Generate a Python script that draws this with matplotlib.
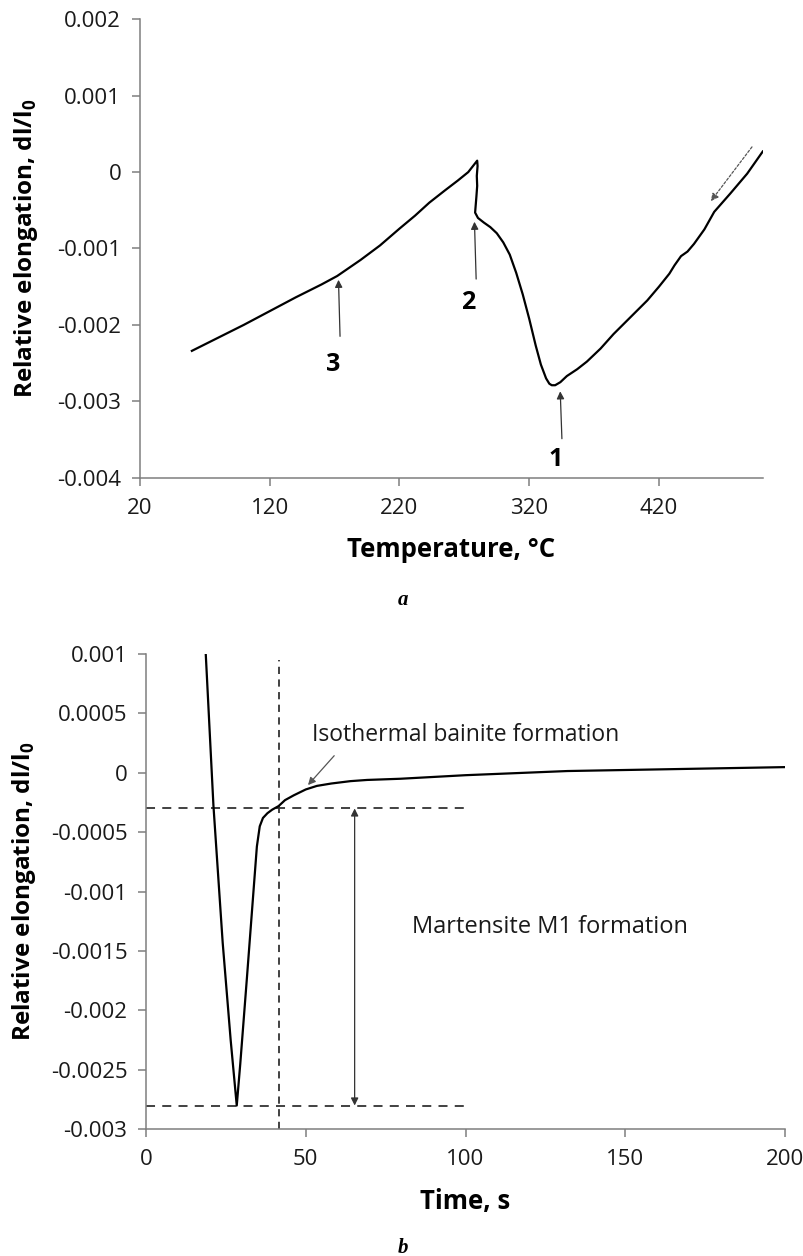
import numpy as np
import matplotlib
matplotlib.use("Agg")
import matplotlib.pyplot as plt

plt.rcParams['font.family'] = ['Open Sans', 'DejaVu Sans']
plt.rcParams['mathtext.fontset'] = 'custom'
plt.rcParams['mathtext.rm'] = 'Open Sans'
plt.rcParams['mathtext.bf'] = 'Open Sans:bold'

# dilatometric curve on cooling: temperature (C) vs relative elongation
temp_a = [60, 80, 100, 120, 140, 160, 172, 190, 205, 220, 232, 243, 255, 265,
          273, 279.9, 280.2, 279.6, 279.9, 279.3, 278.3, 280.5, 285, 290, 295,
          300, 305, 310, 315, 320, 325, 329, 333, 335.5, 337.4, 340, 344,
          349, 357, 364.5, 375, 385, 398, 411, 420, 428, 432, 437, 442,
          447, 455, 462.6, 475, 488, 500]
elong_a = [-0.00234, -0.00217, -0.00200, -0.00182, -0.00164, -0.00147,
           -0.00136, -0.00115, -0.00096, -0.00074, -0.00057, -0.00040,
           -0.00024, -0.00011, 0.00000, 0.00015, 0.00008, -0.00005,
           -0.00018, -0.00032, -0.00053, -0.00060, -0.00066, -0.00072,
           -0.00080, -0.00092, -0.00108, -0.00132, -0.00160, -0.00192,
           -0.00227, -0.00252, -0.00270, -0.00277, -0.00279, -0.00279,
           -0.00275, -0.00267, -0.00258, -0.00248, -0.00231, -0.00212,
           -0.00190, -0.00168, -0.00150, -0.00133, -0.00122, -0.00110,
           -0.00104, -0.00094, -0.00075, -0.00052, -0.00028, -0.00002,
           0.00027]

# isothermal holding: time (s) vs relative elongation
time_b = [18.7, 21.1, 24.0, 26.5, 28.4, 29.5, 31.6, 33.6, 34.7, 35.6, 36.6,
          38.0, 39.5, 41.5, 43.5, 46.2, 50, 53.5, 58, 64, 69.2, 79.6, 100,
          131.9, 163, 200]
elong_b = [0.001, -0.000274, -0.00143, -0.00225, -0.0028, -0.00245, -0.00172,
           -0.00101, -0.00062, -0.00045, -0.00038, -0.00034, -0.00031,
           -0.00028, -0.00023, -0.00019, -0.00014, -0.00011, -0.00009,
           -0.00007, -0.00006, -0.00005, -0.00002, 0.000015, 0.00003,
           0.000048]

xticks_a = [20, 120, 220, 320, 420]
yticks_a = [0.002, 0.001, 0, -0.001, -0.002, -0.003, -0.004]
ylabels_a = ['0.002', '0.001', '0', '-0.001', '-0.002', '-0.003', '-0.004']

xticks_b = [0, 50, 100, 150, 200]
yticks_b = [0.001, 0.0005, 0, -0.0005, -0.001, -0.0015, -0.002, -0.0025, -0.003]
ylabels_b = ['0.001', '0.0005', '0', '-0.0005', '-0.001', '-0.0015', '-0.002',
             '-0.0025', '-0.003']

# levels used for the guide lines in (b)
level_hi = -0.0003
level_lo = -0.0028
t_start = 41.5
t_arrow = 65.3

AX_COL = '#7f7f7f'
TXT_COL = '#1a1a1a'
ylab = r'Relative elongation, dl/l$_\mathbf{0}$'


def style_axes(ax, xticks, yticks, ylabels):
    for s in ['top', 'right']:
        ax.spines[s].set_visible(False)
    for s in ['left', 'bottom']:
        ax.spines[s].set_color(AX_COL)
        ax.spines[s].set_linewidth(1.1)
    ax.set_xticks(xticks)
    ax.set_yticks(yticks)
    ax.set_yticklabels(ylabels)
    ax.tick_params(direction='out', length=5.5, width=1.1, color=AX_COL,
                   labelsize=16, labelcolor=TXT_COL)
    ax.tick_params(axis='x', pad=9)
    ax.tick_params(axis='y', pad=8)


fig = plt.figure(figsize=(8.04, 12.56), dpi=100)

# ---- (a) temperature ----
ax1 = fig.add_axes([0.1741, 0.6197, 0.7746, 0.3649])
ax1.plot(temp_a, elong_a, color='black', lw=1.6)
ax1.set_xlim(20, 500)
ax1.set_ylim(-0.004, 0.002)
style_axes(ax1, xticks_a, yticks_a, ylabels_a)
ax1.set_xlabel('Temperature, °C', fontsize=18.5, fontweight='bold', va='center')
ax1.set_ylabel(ylab, fontsize=17.5, fontweight='bold', va='center')
ax1.xaxis.set_label_coords(0.5, -0.156)
ax1.yaxis.set_label_coords(-0.183, 0.5)

arr = dict(arrowstyle='-|>', color='#333333', lw=0.9, mutation_scale=11,
           shrinkA=0, shrinkB=0)
ax1.annotate('', xy=(343.9, -0.00287), xytext=(345.2, -0.00349), arrowprops=arr)
ax1.annotate('', xy=(277.8, -0.00065), xytext=(279.1, -0.0014), arrowprops=arr)
ax1.annotate('', xy=(173, -0.00141), xytext=(174.2, -0.00215), arrowprops=arr)
ax1.text(340.1, -0.00376, '1', fontsize=18, fontweight='bold', ha='center', va='center')
ax1.text(272.9, -0.00171, '2', fontsize=18, fontweight='bold', ha='center', va='center')
ax1.text(169, -0.00252, '3', fontsize=18, fontweight='bold', ha='center', va='center')
ax1.annotate('', xy=(460, -0.00038), xytext=(491.7, 0.00033),
             arrowprops=dict(arrowstyle='-|>', color='#555555', lw=0.9,
                             ls=(0, (2, 1.5)), mutation_scale=11,
                             shrinkA=0, shrinkB=0))

fig.text(0.5012, 0.5223, 'a', fontsize=15, fontweight='bold', style='italic',
         family='Liberation Serif', ha='center', va='center')

# ---- (b) time ----
ax2 = fig.add_axes([0.1816, 0.1009, 0.7948, 0.3784])
ax2.plot(time_b, elong_b, color='black', lw=1.6, zorder=3)
ax2.set_xlim(0, 200)
ax2.set_ylim(-0.003, 0.001)
style_axes(ax2, xticks_b, yticks_b, ylabels_b)
ax2.set_xlabel('Time, s', fontsize=18.5, fontweight='bold', va='center')
ax2.set_ylabel(ylab, fontsize=17.5, fontweight='bold', va='center')
ax2.xaxis.set_label_coords(0.5, -0.153)
ax2.yaxis.set_label_coords(-0.191, 0.5)

dash = dict(color='#333333', lw=1.3, ls=(0, (5, 4)))
ax2.plot([0, 100], [level_hi, level_hi], **dash)
ax2.plot([0, 100], [level_lo, level_lo], **dash)
ax2.plot([t_start, t_start], [-0.003, 0.00095], color='#333333', lw=1.3,
         ls=(0, (4, 3)))
ax2.annotate('', xy=(t_arrow, level_lo), xytext=(t_arrow, level_hi),
             arrowprops=dict(arrowstyle='<|-|>', color='#333333', lw=0.9,
                             mutation_scale=11, shrinkA=0, shrinkB=0))
ax2.annotate('', xy=(50.7, -0.000103), xytext=(58.9, 0.000144),
             arrowprops=dict(arrowstyle='-|>', color='#555555', lw=0.9,
                             mutation_scale=11, shrinkA=0, shrinkB=0))
ax2.text(51.9, 0.00032, 'Isothermal bainite formation', fontsize=16.5,
         color=TXT_COL, ha='left', va='center')
ax2.text(83.2, -0.0013, 'Martensite M1 formation', fontsize=17,
         color=TXT_COL, ha='left', va='center')

fig.text(0.5012, 0.0066, 'b', fontsize=15, fontweight='bold', style='italic',
         family='Liberation Serif', ha='center', va='center')

fig.savefig('out.png', dpi=100)
